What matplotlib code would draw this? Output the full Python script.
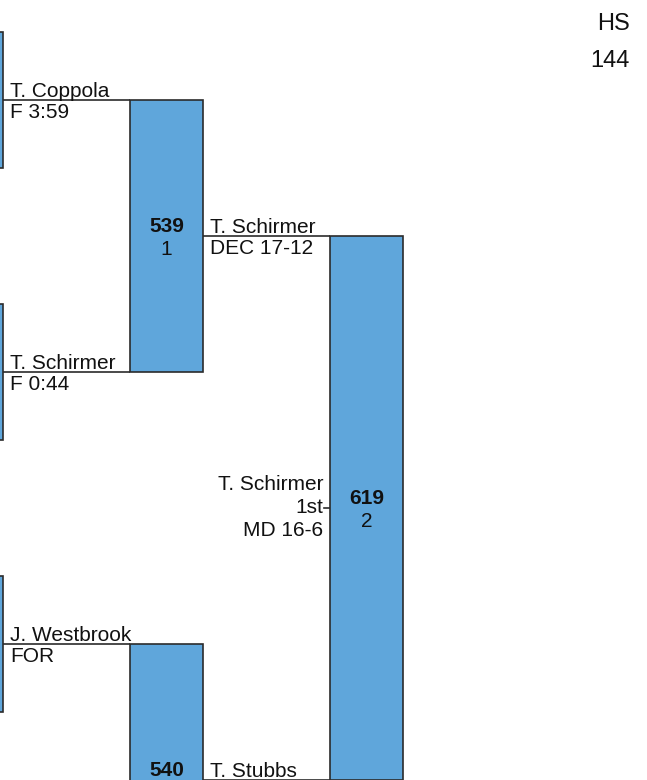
import matplotlib
matplotlib.use("Agg")
import matplotlib.pyplot as plt
from matplotlib.patches import Rectangle

# ---- data ----
r0_winners = ["T. Coppola", "T. Schirmer", "J. Westbrook"]
r0_results = ["F 3:59", "F 0:44", "FOR"]
r1_bouts = ["539", "540"]
r1_seq = ["1", ""]
r1_winners = ["T. Schirmer", "T. Stubbs"]
r1_results = ["DEC 17-12", ""]
final_bout = ["619"]
final_seq = ["2"]
final_winner = ["T. Schirmer"]
final_place = ["1st"]
final_result = ["MD 16-6"]
header = ["HS", "144"]

# ---- layout ----
W, H = 647, 780
fig = plt.figure(figsize=(W / 100, H / 100), dpi=100)
ax = fig.add_axes([0, 0, 1, 1])
ax.set_xlim(0, W)
ax.set_ylim(H, 0)
ax.axis("off")

plt.rcParams["font.family"] = ["Liberation Sans", "DejaVu Sans"]
FS = 15
BLUE = "#5FA6DB"
EDGE = "#2b2b2b"
TXT = "#111111"
LW = 1.2

col_left = [-70, 130, 330]
bar_w = 73
pitch = 272
first = 100


def center(r, j):
    return first + pitch * (2 ** r * j + (2 ** r - 1) / 2)


def bar_h(r):
    return pitch / 2 * 2 ** r


def draw_bar(r, j):
    c = center(r, j)
    h = bar_h(r)
    ax.add_patch(Rectangle((col_left[r], c - h / 2), bar_w, h,
                           facecolor=BLUE, edgecolor=EDGE, lw=LW, zorder=2))
    return c


def bout_text(r, c, num, seq):
    xc = col_left[r] + bar_w / 2
    ax.text(xc, c - 4.5, num, ha="center", va="baseline", fontsize=FS,
            fontweight="bold", color=TXT, zorder=3)
    if seq:
        ax.text(xc, c + 19, seq, ha="center", va="baseline", fontsize=FS,
                color=TXT, zorder=3)


def winner_line(r, c, name, res):
    x0 = col_left[r] + bar_w
    x1 = col_left[r + 1]
    ax.plot([x0, x1], [c, c], color=EDGE, lw=LW, zorder=1,
            solid_capstyle="butt")
    ax.text(x0 + 7, c - 3, name, ha="left", va="baseline", fontsize=FS,
            color=TXT)
    if res:
        ax.text(x0 + 7, c + 18, res, ha="left", va="baseline", fontsize=FS,
                color=TXT)


# round 0
for j in range(len(r0_winners)):
    c = draw_bar(0, j)
    winner_line(0, c, r0_winners[j], r0_results[j])

# round 1
for j in range(len(r1_bouts)):
    c = draw_bar(1, j)
    bout_text(1, c, r1_bouts[j], r1_seq[j])
    winner_line(1, c, r1_winners[j], r1_results[j])

# final
for j in range(len(final_bout)):
    c = draw_bar(2, j)
    bout_text(2, c, final_bout[j], final_seq[j])
    xl = col_left[2]
    ax.plot([xl - 6, xl], [c, c], color=EDGE, lw=LW, zorder=1)
    ax.text(xl - 7, c - 18, final_winner[j], ha="right", va="baseline",
            fontsize=FS, color=TXT)
    ax.text(xl - 7, c + 5, final_place[j], ha="right", va="baseline",
            fontsize=FS, color=TXT)
    ax.text(xl - 7, c + 28, final_result[j], ha="right", va="baseline",
            fontsize=FS, color=TXT)

# header
ax.text(630, 30, header[0], ha="right", va="baseline", fontsize=17, color=TXT)
ax.text(630, 67, header[1], ha="right", va="baseline", fontsize=17, color=TXT)

fig.savefig("out.png", dpi=100)
